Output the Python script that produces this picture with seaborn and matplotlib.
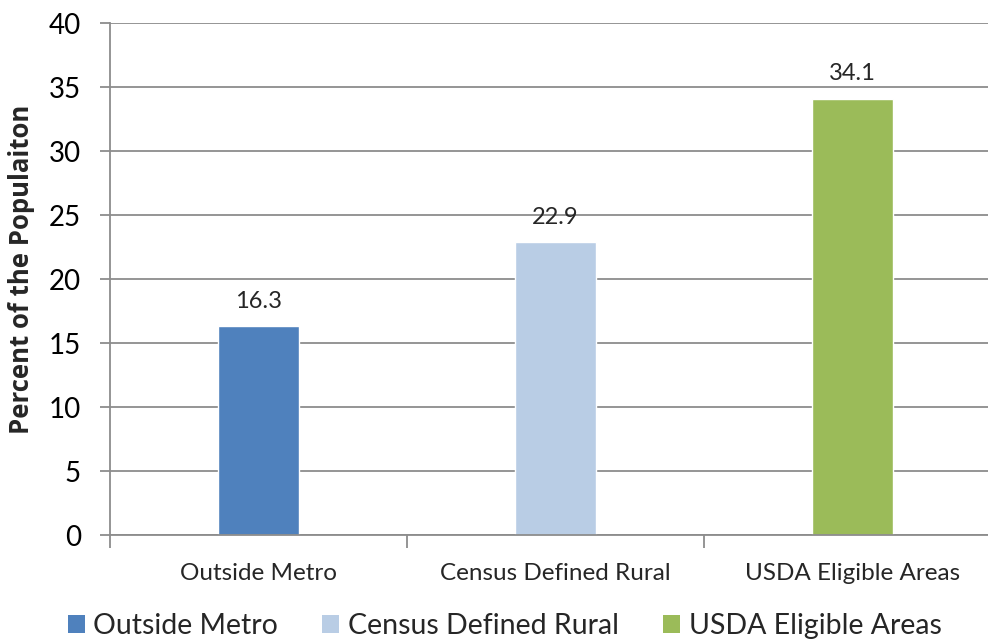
import matplotlib
matplotlib.use("Agg")
import matplotlib.pyplot as plt
import seaborn as sns
import pandas as pd
from matplotlib.patches import Patch

categories = ["Outside Metro", "Census Defined Rural", "USDA Eligible Areas"]
values = [16.3, 22.9, 34.1]
colors = ["#4F81BD", "#B9CDE5", "#9BBB59"]
yticks = [0, 5, 10, 15, 20, 25, 30, 35, 40]

sns.set_theme(style="white")
plt.rcParams["font.family"] = ["Lato", "DejaVu Sans"]

df = pd.DataFrame({"cat": categories, "val": values})

W, H = 988, 643
fig = plt.figure(figsize=(W / 100, H / 100), dpi=100)
ax = fig.add_axes([110 / W, (643 - 535) / H, (988 - 110) / W, (535 - 23) / H])

sns.barplot(data=df, x="cat", y="val", hue="cat", palette=colors, order=categories,
            hue_order=categories, dodge=False, width=0.27, legend=False, ax=ax,
            saturation=1)

ax.set_xlim(-0.5, 2.5 - 13 / 297)
ax.set_ylim(0, 40)
ax.set_yticks(yticks)
ax.set_yticklabels([str(v) for v in yticks], fontsize=20)
ax.yaxis.grid(True, color="#8C8C8C", linewidth=1.3)
ax.set_axisbelow(True)
for s in ["top", "right"]:
    ax.spines[s].set_visible(False)
ax.spines["left"].set_color("#8C8C8C")
ax.spines["bottom"].set_color("#8C8C8C")
ax.spines["left"].set_linewidth(1.3)
ax.spines["bottom"].set_linewidth(1.3)

ax.tick_params(axis="y", which="major", left=True, length=7, width=1.3, color="#8C8C8C", pad=14, labelcolor="black")
ax.set_xticks([0, 1, 2])
ax.set_xticklabels(categories, fontsize=17.5)
ax.tick_params(axis="x", which="major", length=0, pad=20)
ax.set_xticks([-0.5, 0.5, 1.5], minor=True)
ax.tick_params(axis="x", which="minor", bottom=True, length=9, width=1.3, color="#8C8C8C")
ax.set_xlabel("")
ax.set_ylabel("Percent of the Populaiton", fontsize=18.5, fontweight="bold",
              family=["Open Sans", "DejaVu Sans"])
ax.yaxis.set_label_coords((22 - 110) / 878, (535 - 269) / 512)
ax.yaxis.label.set_va("center")

for i, v in enumerate(values):
    ax.text(i, v + 1.1, f"{v}", ha="center", va="bottom", fontsize=17)

handles = [Patch(facecolor=c, edgecolor="none") for c in colors]
fig.legend(handles, categories, loc="center", bbox_to_anchor=(504.5 / W, 1 - 626 / H),
           ncol=3, frameon=False, fontsize=20.5, handlelength=0.6, handleheight=0.6,
           handletextpad=0.3, columnspacing=1.55)

fig.savefig("out.png", dpi=100)
